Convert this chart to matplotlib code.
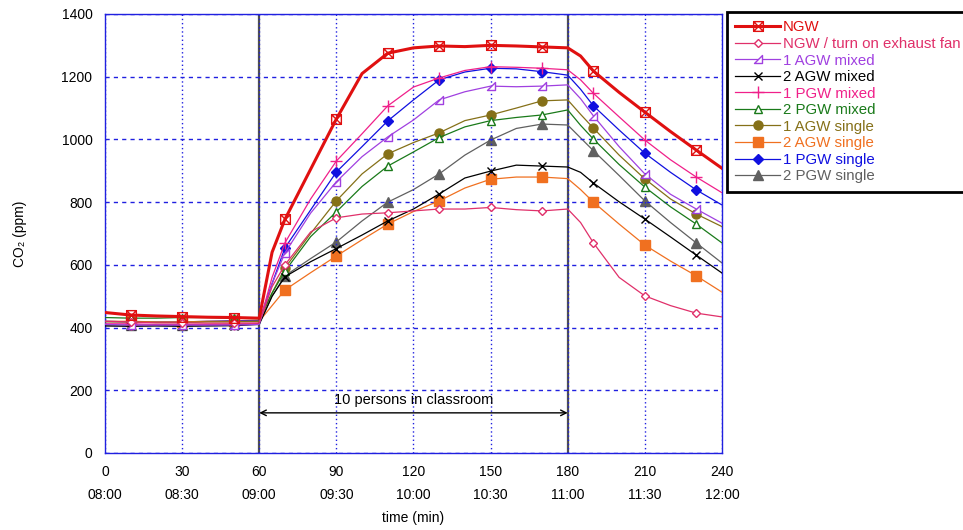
import matplotlib
matplotlib.use("Agg")
import matplotlib.pyplot as plt
from matplotlib.path import Path

plt.rcParams["font.family"] = ["Liberation Sans", "DejaVu Sans"]
plt.rcParams["font.size"] = 10

# time axis (min after 08:00)
minutes = [0, 10, 20, 30, 40, 50, 60, 65, 70, 80, 90, 100, 110, 120, 130,
           140, 150, 160, 170, 180, 185, 190, 200, 210, 220, 230, 240]

ngw = [448, 440, 437, 435, 433, 432, 430, 640, 745, 905, 1065, 1210, 1275, 1292,
       1298, 1296, 1300, 1298, 1295, 1292, 1266, 1218, 1150, 1087, 1025, 966, 908]
ngw_fan = [420, 418, 415, 415, 414, 414, 415, 530, 600, 705, 750, 762, 766, 772,
           778, 778, 783, 776, 772, 778, 735, 670, 560, 501, 470, 446, 434]
agw1_mixed = [410, 408, 408, 408, 408, 408, 410, 540, 638, 765, 865, 945, 1008, 1062,
              1126, 1152, 1170, 1168, 1170, 1174, 1130, 1075, 977, 890, 825, 778, 733]
agw2_mixed = [405, 404, 405, 404, 405, 406, 410, 500, 562, 610, 652, 695, 740, 778,
              826, 877, 899, 918, 915, 912, 895, 861, 801, 746, 689, 631, 574]
pgw1_mixed = [412, 412, 410, 410, 410, 411, 412, 560, 670, 810, 931, 1018, 1107, 1167,
              1196, 1220, 1232, 1230, 1227, 1222, 1190, 1147, 1072, 998, 935, 880, 830]
pgw2_mixed = [432, 430, 430, 432, 432, 430, 428, 510, 580, 690, 769, 850, 915, 960,
              1006, 1040, 1060, 1070, 1078, 1094, 1045, 1001, 920, 848, 785, 730, 670]
agw1_single = [418, 418, 416, 416, 418, 418, 420, 510, 590, 700, 804, 890, 954, 990,
               1021, 1060, 1078, 1100, 1123, 1126, 1080, 1036, 950, 874, 810, 762, 722]
agw2_single = [420, 420, 418, 418, 420, 420, 420, 470, 520, 575, 628, 680, 730, 770,
               804, 845, 873, 880, 880, 875, 840, 800, 730, 663, 612, 565, 513]
pgw1_single = [420, 418, 418, 418, 420, 422, 422, 540, 654, 775, 896, 977, 1059, 1126,
               1190, 1215, 1227, 1225, 1216, 1205, 1160, 1107, 1030, 956, 895, 839, 791]
pgw2_single = [408, 408, 407, 407, 408, 410, 412, 500, 565, 620, 673, 740, 800, 840,
               890, 950, 998, 1035, 1049, 1046, 1005, 964, 885, 804, 735, 670, 606]

x_ticks = [0, 30, 60, 90, 120, 150, 180, 210, 240]
x_clock = ["08:00", "08:30", "09:00", "09:30", "10:00", "10:30", "11:00", "11:30", "12:00"]
y_ticks = [0, 200, 400, 600, 800, 1000, 1200, 1400]

# markers every 20 min starting at 10
mark_idx = [i for i, m in enumerate(minutes) if m % 20 == 10]

boxed_x = Path(
    [(-1, -1), (1, -1), (1, 1), (-1, 1), (-1, -1), (-1, -1), (1, 1), (-1, 1), (1, -1)],
    [Path.MOVETO, Path.LINETO, Path.LINETO, Path.LINETO, Path.CLOSEPOLY,
     Path.MOVETO, Path.LINETO, Path.MOVETO, Path.LINETO],
)
right_tri = Path(
    [(1, 1), (1, -1), (-1, -1), (1, 1)],
    [Path.MOVETO, Path.LINETO, Path.LINETO, Path.CLOSEPOLY],
)

series = [
    ("NGW", ngw, "#E01010", boxed_x, 7, "none", 2.2),
    ("NGW / turn on exhaust fan", ngw_fan, "#E0306A", "D", 4.5, "white", 0.9),
    ("1 AGW mixed", agw1_mixed, "#A040E0", right_tri, 6, "white", 0.9),
    ("2 AGW mixed", agw2_mixed, "#000000", "x", 6, "none", 0.9),
    ("1 PGW mixed", pgw1_mixed, "#F0208A", "+", 8, "none", 0.9),
    ("2 PGW mixed", pgw2_mixed, "#1A7A1A", "^", 6, "white", 0.9),
    ("1 AGW single", agw1_single, "#857018", "o", 6.5, None, 0.9),
    ("2 AGW single", agw2_single, "#F07020", "s", 6.5, None, 0.9),
    ("1 PGW single", pgw1_single, "#1010E0", "D", 5, None, 0.9),
    ("2 PGW single", pgw2_single, "#606060", "^", 6.5, None, 0.9),
]

fig = plt.figure(figsize=(9.63, 5.30), dpi=100)
ax = fig.add_axes([0.109, 0.1453, 0.6407, 0.8283])

ax.axvline(60, color="#505050", lw=1.6, zorder=1)
ax.axvline(180, color="#505050", lw=1.6, zorder=1)

for n, (label, vals, color, marker, ms, face, lw) in enumerate(series):
    ax.plot(
        minutes, vals, color=color, lw=lw, marker=marker, ms=ms,
        markevery=mark_idx,
        markerfacecolor=color if face is None else face,
        markeredgecolor=color, markeredgewidth=1.0,
        label=label, zorder=10 - n if n else 12,
    )

ax.set_xlim(0, 240)
ax.set_ylim(0, 1400)
ax.set_xticks(x_ticks)
ax.set_xticklabels([f"{m}\n{c}" for m, c in zip(x_ticks, x_clock)], linespacing=1.8)
ax.set_yticks(y_ticks)
ax.tick_params(length=0, pad=9, labelsize=10)

ax.grid(axis="x", color="#2020E0", ls=(0, (1, 2)), lw=1.0)
ax.grid(axis="y", color="#2020E0", ls=(0, (3, 3)), lw=1.0)
for s in ax.spines.values():
    s.set_color("#2020E0")
    s.set_linewidth(1.0)

ax.set_xlabel("time (min)", fontsize=10, labelpad=6)
ax.set_ylabel("CO₂ (ppm)", fontsize=10, labelpad=25)

ax.annotate("", xy=(60, 128), xytext=(180, 128),
            arrowprops=dict(arrowstyle="<->", color="black", lw=1.0,
                            shrinkA=0, shrinkB=0))
ax.text(120, 168, "10 persons in classroom", ha="center", va="center", fontsize=10.5)

leg = fig.legend(loc="upper left", bbox_to_anchor=(0.755, 0.977), fontsize=10.8,
                 handlelength=3.0, labelspacing=0.17, borderpad=0.55,
                 borderaxespad=0, handletextpad=0.15, fancybox=False,
                 framealpha=1, edgecolor="black")
leg.get_frame().set_linewidth(2.0)
for txt, s in zip(leg.get_texts(), series):
    txt.set_color(s[2])

fig.savefig("out.png", dpi=100)
